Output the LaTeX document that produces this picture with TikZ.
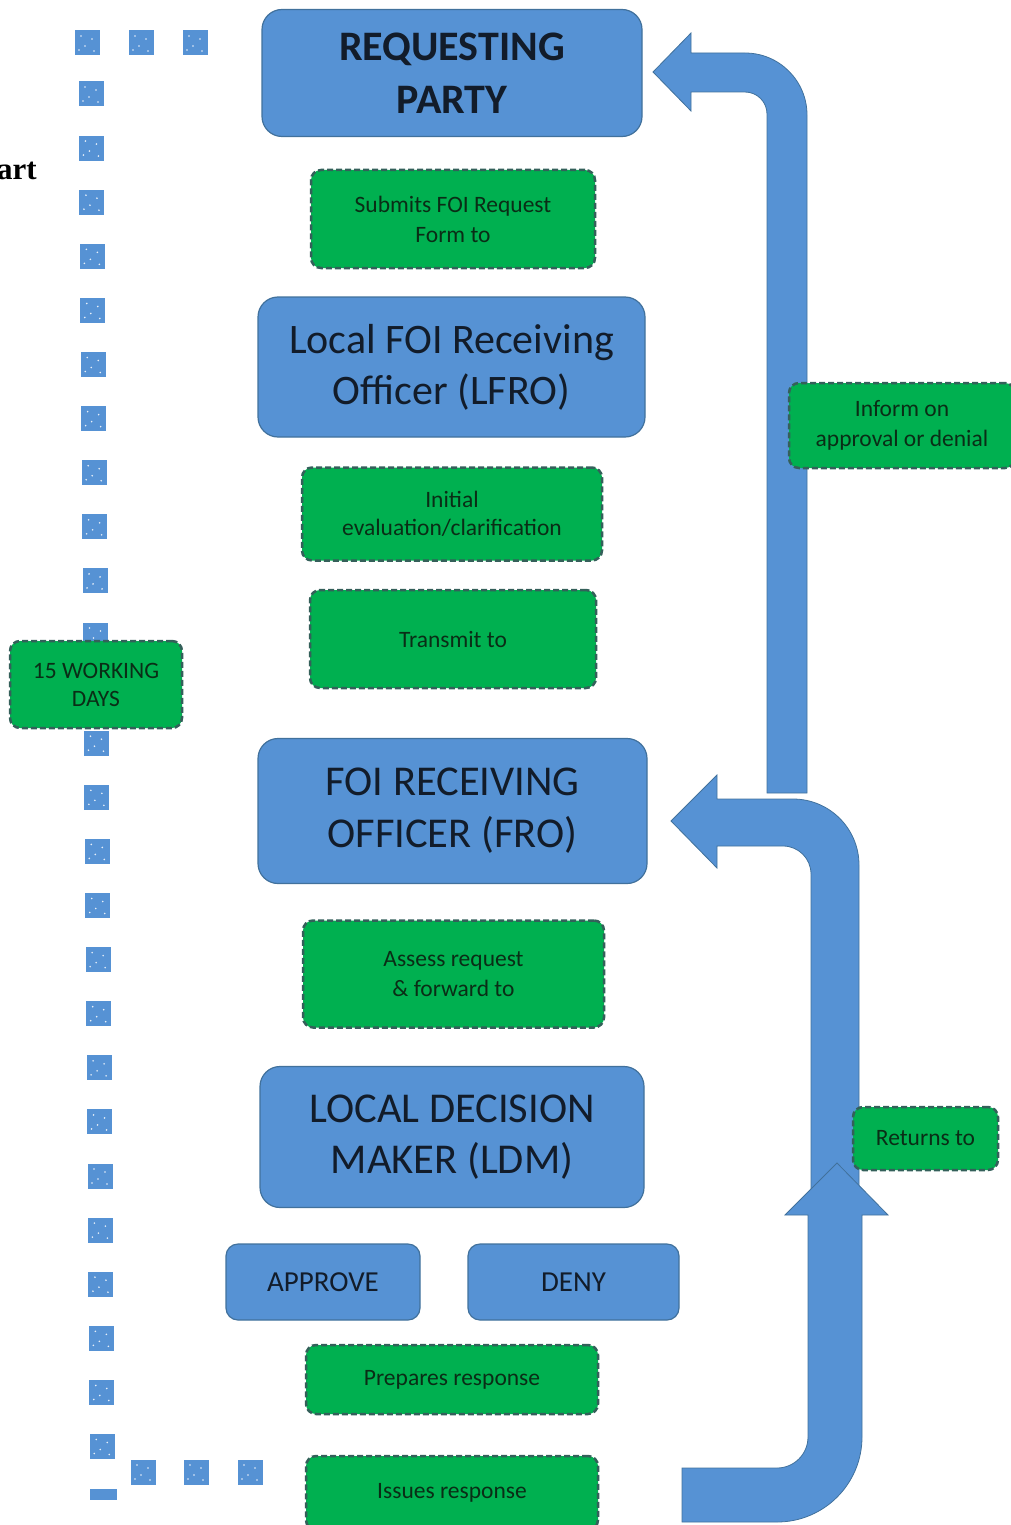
\documentclass[tikz,border=0pt]{standalone}
\usepackage{fontspec}
\setmainfont{Carlito}
\newfontfamily\serifb{Liberation Serif}
\definecolor{boxblue}{RGB}{86,146,212}
\definecolor{boxedge}{RGB}{65,113,156}
\definecolor{grn}{RGB}{0,176,80}
\definecolor{grnedge}{RGB}{52,96,90}
\definecolor{navy}{RGB}{18,28,42}
\definecolor{grntext}{RGB}{10,45,22}
\tikzset{
  bluebox/.style={draw=boxedge, line width=1.2pt, fill=boxblue, rounded corners=20pt,
    text=navy, align=center, inner sep=0pt},
  greenbox/.style={draw=grnedge, line width=2.5pt, dash pattern=on 6pt off 3pt,
    fill=grn, rounded corners=10pt, text=grntext, align=center, inner sep=0pt},
  blockarrow/.style={fill=boxblue, draw=boxedge, line width=0.8pt},
}
\newcommand{\dotsquare}[2]{%
  \fill[boxblue] (#1-12.5,#2-12.5) rectangle (#1+12.5,#2+12.5);
  \fill[white!85!boxblue] (#1-6,#2-7) circle (0.9) (#1+5,#2-4) circle (0.9)
     (#1-2,#2+3) circle (0.9) (#1+7,#2+8) circle (0.9) (#1-8,#2+7) circle (0.9);
}
\begin{document}
\begin{tikzpicture}[x=1pt,y=-1pt]
\useasboundingbox (0,0) rectangle (1010,1525);

% dotted bracket on the left
\foreach \xx in {87,141,195} {\dotsquare{\xx}{43}}
\foreach \k in {0,...,25} {
  \pgfmathsetmacro{\yy}{94+54.1*\k}
  \pgfmathsetmacro{\xx}{91+0.45*\k}
  \dotsquare{\xx}{\yy}
}
\foreach \xx in {143,196,250} {\dotsquare{\xx}{1472}}
\fill[boxblue] (90,1489) rectangle (117,1500);

\node[font=\serifb\bfseries\fontsize{31}{34}\selectfont, anchor=west, inner sep=0pt] (art) at (-3,171) {art};

% block arrows
% upper: to requesting party
\draw[blockarrow] (767,793) -- (807,793) -- (807,115)
  arc[start angle=0, end angle=-90, radius=62] -- (691,53) -- (691,33) -- (653,72)
  -- (691,111) -- (691,92) -- (745,92) arc[start angle=-90, end angle=0, radius=22] -- cycle;
% middle: to FRO
\draw[blockarrow] (811,1200) -- (859,1200) -- (859,865)
  arc[start angle=0, end angle=-90, radius=66] -- (717,799) -- (717,775) -- (671,821)
  -- (717,868) -- (717,846) -- (783,846) arc[start angle=-90, end angle=0, radius=28] -- cycle;
% lower: from issues response upward
\draw[blockarrow] (682,1468) -- (777,1468) arc[start angle=90, end angle=0, radius=31]
  -- (808,1215) -- (785,1215) -- (837,1163) -- (888,1215) -- (862,1215) -- (862,1437)
  arc[start angle=0, end angle=90, radius=85] -- (682,1522) -- cycle;

% blue boxes
\node[bluebox, minimum width=380pt, minimum height=127pt,
  font=\bfseries\fontsize{42}{53}\selectfont] (rp) at (452,73) {REQUESTING\\PARTY};
\node[bluebox, minimum width=387pt, minimum height=140pt,
  font=\fontsize{42}{51}\selectfont] (lfro) at (451.5,367) {Local FOI Receiving\\Officer (LFRO)};
\node[bluebox, minimum width=389pt, minimum height=145pt,
  font=\fontsize{42.5}{52}\selectfont] (fro) at (452.5,811) {FOI RECEIVING\\OFFICER (FRO)};
\node[bluebox, minimum width=384pt, minimum height=141pt,
  font=\fontsize{42.5}{51}\selectfont] (ldm) at (452,1137) {LOCAL DECISION\\MAKER (LDM)};
\node[bluebox, rounded corners=12pt, minimum width=194pt, minimum height=76pt,
  font=\fontsize{29}{32}\selectfont] (appr) at (323,1282) {APPROVE};
\node[bluebox, rounded corners=12pt, minimum width=211pt, minimum height=76pt,
  font=\fontsize{29}{32}\selectfont] (deny) at (573.5,1282) {DENY};

% green boxes
\node[greenbox, minimum width=284pt, minimum height=98pt,
  font=\fontsize{23.5}{30}\selectfont] (sub) at (453,219) {Submits FOI Request\\Form to};
\node[greenbox, minimum width=300pt, minimum height=93pt,
  font=\fontsize{23.5}{28}\selectfont] (init) at (452,514) {Initial\\evaluation/clarification};
\node[greenbox, minimum width=286pt, minimum height=98pt,
  font=\fontsize{23.5}{28}\selectfont] (trans) at (453,639) {Transmit to};
\node[greenbox, minimum width=301pt, minimum height=107pt,
  font=\fontsize{23.5}{30}\selectfont] (assess) at (453.5,974) {Assess request\\\& forward to};
\node[greenbox, minimum width=292pt, minimum height=69pt,
  font=\fontsize{23.5}{28}\selectfont] (prep) at (452,1379.5) {Prepares response};
\node[greenbox, minimum width=292pt, minimum height=74pt,
  font=\fontsize{23.5}{28}\selectfont] (issue) at (452,1493) {Issues response};
\node[greenbox, minimum width=226pt, minimum height=85pt,
  font=\fontsize{23.5}{30}\selectfont] (inform) at (902,425.5) {Inform on\\approval or denial};
\node[greenbox, minimum width=145pt, minimum height=63pt,
  font=\fontsize{23.5}{28}\selectfont] (ret) at (925.5,1138.5) {Returns to};
\node[greenbox, minimum width=172pt, minimum height=87pt,
  font=\fontsize{23.5}{28}\selectfont] (days) at (96,684.5) {15 WORKING\\DAYS};
\end{tikzpicture}
\end{document}
